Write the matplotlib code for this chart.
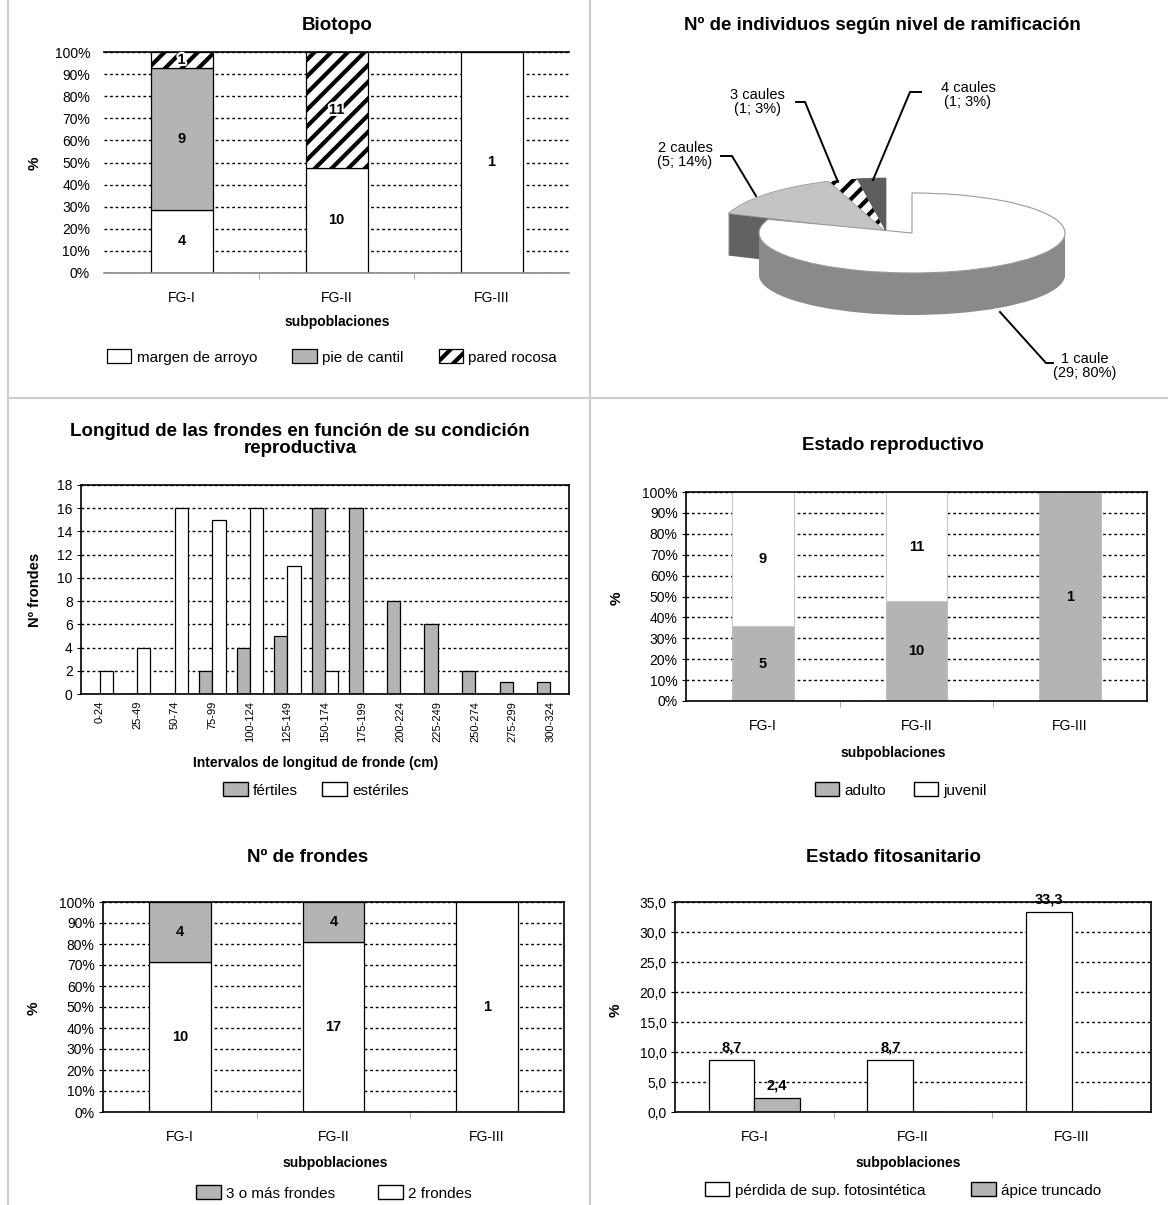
import numpy as np
import matplotlib
matplotlib.use("Agg")
import matplotlib.pyplot as plt
import matplotlib.patheffects as pe
from matplotlib.patches import Patch, Wedge
from matplotlib.lines import Line2D
from matplotlib.transforms import Affine2D

W, H = 1168, 1205
plt.rcParams['font.family'] = ['Liberation Sans', 'DejaVu Sans']
plt.rcParams['hatch.linewidth'] = 3.0

# ---- data ----
subpob = ['FG-I', 'FG-II', 'FG-III']

biotopo_margen = [4, 10, 1]
biotopo_pie = [9, 0, 0]
biotopo_pared = [1, 11, 0]

caules_names = ['1 caule', '2 caules', '3 caules', '4 caules']
caules_n = [29, 5, 1, 1]
caules_pct = ['80%', '14%', '3%', '3%']

intervalos = ['0-24', '25-49', '50-74', '75-99', '100-124', '125-149', '150-174',
              '175-199', '200-224', '225-249', '250-274', '275-299', '300-324']
fertiles = [0, 0, 0, 2, 4, 5, 16, 16, 8, 6, 2, 1, 1]
esteriles = [2, 4, 16, 15, 16, 11, 2, 0, 0, 0, 0, 0, 0]

repro_adulto = [5, 10, 1]
repro_juvenil = [9, 11, 0]

frondes_2 = [10, 17, 1]
frondes_3mas = [4, 4, 0]

perdida = [8.7, 8.7, 33.3]
apice = [2.4, 0, 0]

GREY = '#b4b4b4'

fig = plt.figure(figsize=(W / 100, H / 100), dpi=100)


def px_axes(l, t, r, b):
    return fig.add_axes([l / W, 1 - b / H, (r - l) / W, (b - t) / H])


def ftext(x, y, s, **kw):
    kw.setdefault('ha', 'center')
    kw.setdefault('va', 'center')
    fig.text(x / W, 1 - y / H, s, **kw)


def flegend(x, y, handles, labels, colsp):
    fig.legend(handles, labels, loc='center', bbox_to_anchor=(x / W, 1 - y / H),
               ncol=len(handles), frameon=False, fontsize=11, handlelength=1.6,
               handleheight=1.0, handletextpad=0.35, columnspacing=colsp,
               borderpad=0)


def cat_axes(l, t, r, b, ymax, step, fmt):
    ax = px_axes(l, t, r, b)
    ax.set_xlim(-0.5, len(subpob) - 0.5)
    ax.set_ylim(0, ymax)
    ticks = np.arange(0, ymax + step / 2, step)
    ax.set_yticks(ticks)
    ax.set_yticklabels([fmt(v) for v in ticks])
    ax.set_xticks(range(len(subpob)))
    ax.set_xticklabels(subpob)
    ax.set_xticks(np.arange(0.5, len(subpob) - 1), minor=True)
    ax.tick_params(axis='x', which='major', length=0, pad=13, labelsize=10)
    ax.tick_params(axis='x', which='minor', length=4, color='#999999')
    ax.tick_params(axis='y', length=3, pad=3, labelsize=10)
    ax.grid(axis='y', linestyle=(0, (2, 2)), color='black', lw=1)
    ax.set_axisbelow(True)
    for s in ax.spines.values():
        s.set_linewidth(1.2)
    return ax


def stacked_pct(ax, series, styles, halo=None):
    totals = np.sum(np.array(series, float), axis=0)
    x = np.arange(len(subpob))
    bottom = np.zeros(len(x))
    for k, (vals, st) in enumerate(zip(series, styles)):
        vals = np.asarray(vals, float)
        pct = vals / totals * 100
        for xi, v, p, b0 in zip(x, vals, pct, bottom):
            if v <= 0:
                continue
            ax.bar(xi, p, 0.4, bottom=b0, **st)
            t = ax.text(xi, b0 + p / 2, f'{int(v)}', ha='center', va='center',
                        fontweight='bold', fontsize=10.5)
            if halo is not None and halo[k]:
                t.set_path_effects([pe.withStroke(linewidth=3, foreground='white')])
        bottom += pct


pct_fmt = lambda v: f'{v:.0f}%'

# ---- Biotopo ----
ax1 = cat_axes(104, 52, 569, 273, 100, 10, pct_fmt)
ax1.spines['left'].set_visible(False)
ax1.spines['right'].set_visible(False)
ax1.spines['bottom'].set_color('#888888')
ax1.tick_params(axis='y', length=0, pad=10)
st_margen = dict(facecolor='white', edgecolor='black', lw=0.9)
st_pie = dict(facecolor=GREY, edgecolor='black', lw=0.9)
st_pared = dict(facecolor='white', edgecolor='black', lw=0.9, hatch='//')
stacked_pct(ax1, [biotopo_margen, biotopo_pie, biotopo_pared],
            [st_margen, st_pie, st_pared], halo=[False, False, True])
ftext(337, 25, 'Biotopo', fontsize=13.5, fontweight='bold')
ftext(35, 163, '%', fontsize=11, fontweight='bold', rotation=90)
ftext(337, 322, 'subpoblaciones', fontsize=10, fontweight='bold')
flegend(332, 357,
        [Patch(**st_margen), Patch(**st_pie), Patch(**st_pared)],
        ['margen de arroyo', 'pie de cantil', 'pared rocosa'], 2.3)

# ---- pie 3D ----
axp = px_axes(600, 60, 1160, 395)
axp.set_xlim(600, 1160)
axp.set_ylim(395, 60)
axp.axis('off')

DEPTH = 42
# (cx, cy, a, b) of each slice's ellipse; the small slices sit exploded up-left
geom = [(912, 233, 153, 40), (886, 232, 168, 54), (886, 232, 168, 54), (886, 232, 168, 54)]
tops = [dict(facecolor='white', edgecolor='#9a9a9a', lw=0.8),
        dict(facecolor='#c4c4c4', edgecolor='#9a9a9a', lw=0.6),
        dict(facecolor='white', edgecolor='black', lw=0, hatch='//'),
        dict(facecolor='#5e5e5e', edgecolor='#5e5e5e', lw=0.5)]
sides = [dict(facecolor='#8a8a8a', edgecolor='#8a8a8a', lw=0),
         dict(facecolor='#626262', edgecolor='#626262', lw=0),
         dict(facecolor='white', edgecolor='black', lw=0, hatch='//'),
         dict(facecolor='#4c4c4c', edgecolor='#4c4c4c', lw=0)]

angles = []
start = 90.0
total = float(sum(caules_n))
for n in caules_n:
    end = start - n / total * 360
    angles.append((end, start))
    start = end


def wedge(i, dz, kw):
    cx, cy, a, b = geom[i]
    t1, t2 = angles[i]
    w = Wedge((0, 0), 1, t1, t2, **kw)
    w.set_transform(Affine2D().scale(a, -b).translate(cx, cy + dz) + axp.transData)
    axp.add_patch(w)


def draw_slices(order):
    for i in order:
        for k in range(DEPTH, 0, -1):
            wedge(i, k, sides[i])
    for i in order:
        wedge(i, 0, tops[i])


draw_slices([3, 2, 1])
draw_slices([0])

label_pos = [(1085, 366), (685, 155), (757, 102), (968, 95)]
leaders = [[(1053, 363), (1046, 363), (1000, 312)],
           [(721, 156), (732, 156), (756, 196)],
           [(796, 102), (805, 102), (838, 182)],
           [(921, 92), (910, 92), (873, 180)]]
for name, n, p, (lx, ly), pts in zip(caules_names, caules_n, caules_pct, label_pos, leaders):
    axp.text(lx, ly, f'{name}\n({n}; {p})', ha='center', va='center', fontsize=10.5,
             linespacing=1.0)
    xs, ys = zip(*pts)
    axp.plot(xs, ys, color='black', lw=1.4, solid_joinstyle='miter')

ftext(882, 25, 'Nº de individuos según nivel de ramificación', fontsize=13.5,
      fontweight='bold')

# ---- histogram ----
axh = px_axes(81, 485, 569, 694)
xh = np.arange(len(intervalos))
axh.bar(xh - 0.175, fertiles, 0.35, color=GREY, edgecolor='black', lw=0.9)
axh.bar(xh + 0.175, esteriles, 0.35, color='white', edgecolor='black', lw=0.9)
axh.set_xlim(-0.5, len(intervalos) - 0.5)
axh.set_ylim(0, 18)
axh.set_yticks(np.arange(0, 19, 2))
axh.set_xticks(xh)
axh.set_xticklabels(intervalos, rotation=90, fontsize=8)
axh.tick_params(axis='x', length=0, pad=5)
axh.tick_params(axis='y', length=3, pad=3, labelsize=10)
axh.grid(axis='y', linestyle=(0, (2, 2)), color='black', lw=1)
axh.set_axisbelow(True)
for s in axh.spines.values():
    s.set_linewidth(1.2)
ftext(300, 440, 'Longitud de las frondes en función de su condición\nreproductiva',
      fontsize=13.5, fontweight='bold', linespacing=0.95)
ftext(35, 590, 'Nº frondes', fontsize=10.5, fontweight='bold', rotation=90)
ftext(316, 763, 'Intervalos de longitud de fronde (cm)', fontsize=10, fontweight='bold')
flegend(316, 790,
        [Patch(facecolor=GREY, edgecolor='black'), Patch(facecolor='white', edgecolor='black')],
        ['fértiles', 'estériles'], 1.6)

# ---- Estado reproductivo ----
ax4 = cat_axes(686, 492, 1147, 701, 100, 10, pct_fmt)
st_adulto = dict(color=GREY, edgecolor=GREY, lw=0.5)
st_juvenil = dict(color='white', edgecolor='#c8c8c8', lw=0.8)
stacked_pct(ax4, [repro_adulto, repro_juvenil], [st_adulto, st_juvenil])
ftext(893, 445, 'Estado reproductivo', fontsize=13.5, fontweight='bold')
ftext(617, 598, '%', fontsize=11, fontweight='bold', rotation=90)
ftext(893, 753, 'subpoblaciones', fontsize=10, fontweight='bold')
flegend(901, 790,
        [Patch(facecolor=GREY, edgecolor='black'), Patch(facecolor='white', edgecolor='black')],
        ['adulto', 'juvenil'], 1.8)

# ---- Nº de frondes ----
ax5 = cat_axes(103, 902, 564, 1112, 100, 10, pct_fmt)
st_2 = dict(color='white', edgecolor='black', lw=0.9)
st_3 = dict(color=GREY, edgecolor='black', lw=0.9)
stacked_pct(ax5, [frondes_2, frondes_3mas], [st_2, st_3])
ftext(308, 857, 'Nº de frondes', fontsize=13.5, fontweight='bold')
ftext(34, 1008, '%', fontsize=11, fontweight='bold', rotation=90)
ftext(335, 1163, 'subpoblaciones', fontsize=10, fontweight='bold')
flegend(334, 1193,
        [Patch(facecolor=GREY, edgecolor='black'), Patch(facecolor='white', edgecolor='black')],
        ['3 o más frondes', '2 frondes'], 2.8)

# ---- Estado fitosanitario ----
comma = lambda v: f'{v:.1f}'.replace('.', ',')
ax6 = cat_axes(675, 902, 1151, 1112, 35, 5, comma)
x6 = np.arange(len(subpob))
bw = 0.287
for vals, off, face in [(perdida, -bw / 2, 'white'), (apice, bw / 2, GREY)]:
    for xi, v in zip(x6, vals):
        if v <= 0:
            continue
        ax6.bar(xi + off, v, bw, color=face, edgecolor='black', lw=0.9)
        ax6.annotate(comma(v), (xi + off, v), xytext=(0, 4), textcoords='offset points',
                     ha='center', va='bottom', fontweight='bold', fontsize=10.5,
                     annotation_clip=False)
ftext(894, 857, 'Estado fitosanitario', fontsize=13.5, fontweight='bold')
ftext(616, 1010, '%', fontsize=11, fontweight='bold', rotation=90)
ftext(908, 1163, 'subpoblaciones', fontsize=10, fontweight='bold')
flegend(903, 1190,
        [Patch(facecolor='white', edgecolor='black'), Patch(facecolor=GREY, edgecolor='black')],
        ['pérdida de sup. fotosintética', 'ápice truncado'], 3.0)

# ---- panel separators ----
for (x1, y1, x2, y2) in [(8, 0, 8, H), (590, 0, 590, H), (8, 398, W, 398)]:
    fig.add_artist(Line2D([x1 / W, x2 / W], [1 - y1 / H, 1 - y2 / H],
                          transform=fig.transFigure, color='#cccccc', lw=1.5))

fig.savefig('out.png', dpi=100, facecolor='white')
